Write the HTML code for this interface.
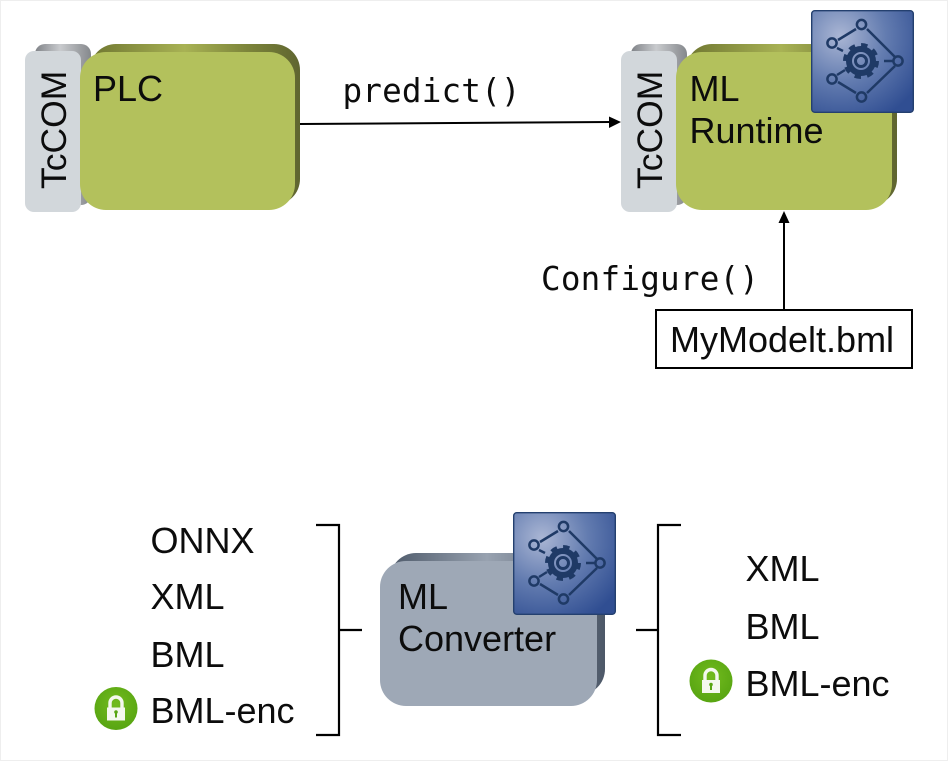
<!DOCTYPE html>
<html><head><meta charset="utf-8">
<style>
html,body{margin:0;padding:0;background:#fff;width:948px;height:761px;overflow:hidden}
svg{display:block}
text{font-family:"Liberation Sans",Arial,sans-serif;font-size:36px;fill:#0c0c0c}
.t{font-size:35.5px}
.m{font-family:"DejaVu Sans Mono","Liberation Mono",monospace;font-size:32.6px}
</style></head><body>
<svg width="948" height="761" viewBox="0 0 948 761" xmlns="http://www.w3.org/2000/svg">
<defs>
<linearGradient id="og" x1="0" x2="1" y1="0" y2="0"><stop offset="0" stop-color="#6f7631"/><stop offset=".45" stop-color="#a8b254"/><stop offset=".75" stop-color="#7c843a"/><stop offset="1" stop-color="#5f6530"/></linearGradient>
<linearGradient id="gg" x1="0" x2="1" y1="0" y2="0"><stop offset="0" stop-color="#7f8287"/><stop offset=".45" stop-color="#c9cbce"/><stop offset="1" stop-color="#85888c"/></linearGradient>
<linearGradient id="bg" x1="0" x2="1" y1="0" y2="0"><stop offset="0" stop-color="#4e5a6a"/><stop offset=".45" stop-color="#98a2b0"/><stop offset="1" stop-color="#4d5868"/></linearGradient>
<radialGradient id="ic" cx=".28" cy=".25" r=".9"><stop offset="0" stop-color="#aab6d4"/><stop offset=".5" stop-color="#637cb0"/><stop offset="1" stop-color="#304e92"/></radialGradient>
<radialGradient id="lk" cx=".5" cy=".4" r=".6"><stop offset="0" stop-color="#72bb1e"/><stop offset="1" stop-color="#58a512"/></radialGradient>
<g id="icon">
<rect x=".7" y=".7" width="101.6" height="101.6" rx="3" fill="url(#ic)" stroke="#24406f" stroke-width="1.4"/>
<g fill="none" stroke="#1f3a66" stroke-width="2.5">
<path d="M27 30L45 19M56 19L84 47M26 38L32 41M73 51H82M84 56L56 83M45 83L27 72M26 65L34 60"/>
<circle cx="21" cy="33" r="4.600"/><circle cx="50.500" cy="14.500" r="4.600"/><circle cx="87" cy="51" r="4.600"/><circle cx="21" cy="69" r="4.600"/><circle cx="50.500" cy="87" r="4.600"/>
<circle cx="50" cy="51" r="12" stroke-width="6"/>
<circle cx="50" cy="51" r="15.500" stroke-width="5" stroke-dasharray="6.200 5.970"/>
<circle cx="50" cy="51" r="5.500" stroke-width="3"/>
</g></g>
<g id="lock">
<circle r="21.500" fill="url(#lk)"/>
<path d="M-6 -1V-5.500A6 6 0 0 1 6 -5.500V-1" fill="none" stroke="#f4f8ee" stroke-width="3.400"/>
<rect x="-9" y="-1" width="18" height="13" fill="#f4f8ee"/>
<rect x="-1" y="3" width="2" height="6" fill="#58a512"/><circle cy="3.500" r="1.800" fill="#58a512"/>
</g>
</defs>
<rect x="0" y="0" width="948" height="761" fill="#fff"/>
<rect x=".5" y=".5" width="947" height="760" fill="none" stroke="#eeeeee"/>

<!-- PLC -->
<rect x="35" y="44" width="56" height="161" rx="10" fill="url(#gg)"/>
<rect x="90" y="44" width="210" height="161" rx="26" fill="url(#og)"/>
<rect x="25" y="51" width="56" height="161" rx="9" fill="#d2d7db"/>
<rect x="80" y="52" width="215" height="158" rx="26" fill="#b3c15c"/>
<text x="93" y="101">PLC</text>
<text class="t" transform="translate(66 189) rotate(-90)">TcCOM</text>

<!-- ML Runtime -->
<rect x="631" y="44" width="56" height="161" rx="10" fill="url(#gg)"/>
<rect x="686" y="44" width="211" height="161" rx="26" fill="url(#og)"/>
<rect x="621" y="51" width="56" height="161" rx="9" fill="#d2d7db"/>
<rect x="676" y="52" width="216" height="158" rx="26" fill="#b3c15c"/>
<text x="689.500" y="101">ML</text>
<text x="689.500" y="143">Runtime</text>
<text class="t" transform="translate(662 189) rotate(-90)">TcCOM</text>
<use href="#icon" x="811" y="10"/>

<!-- connectors top -->
<path d="M300 124L611 122" stroke="#000" stroke-width="2" fill="none"/>
<path d="M621 122L609 116.500V128Z" fill="#000"/>
<text class="m" x="342.500" y="102" textLength="178">predict()</text>
<path d="M784 310V220" stroke="#000" stroke-width="2" fill="none"/>
<path d="M784 211L778.500 223H789.500Z" fill="#000"/>
<text class="m" x="541" y="290" textLength="218">Configure()</text>
<rect x="656" y="310" width="256" height="58" fill="#fff" stroke="#000" stroke-width="2"/>
<text x="670" y="352">MyModelt.bml</text>

<!-- ML Converter -->
<rect x="390" y="553" width="215" height="142" rx="26" fill="url(#bg)"/>
<rect x="380" y="561" width="217" height="145" rx="26" fill="#9ea8b6"/>
<text x="398" y="609">ML</text>
<text x="398" y="651">Converter</text>
<use href="#icon" x="513" y="512"/>

<!-- lists -->
<text x="150.500" y="553">ONNX</text>
<text x="150.500" y="609">XML</text>
<text x="150.500" y="667">BML</text>
<text x="150.500" y="723">BML-enc</text>
<use href="#lock" x="116" y="708.500"/>
<text x="745.500" y="581">XML</text>
<text x="745.500" y="639">BML</text>
<text x="745.500" y="696">BML-enc</text>
<use href="#lock" x="711" y="681"/>

<!-- brackets -->
<path d="M316 525H339V735H316M339 630H362" fill="none" stroke="#000" stroke-width="2.200"/>
<path d="M681 525H658V735H681M658 630H636" fill="none" stroke="#000" stroke-width="2.200"/>
</svg>
</body></html>
